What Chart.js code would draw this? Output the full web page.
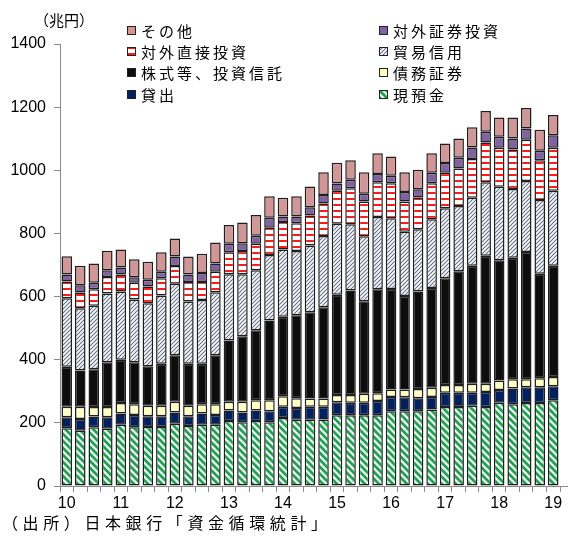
<!DOCTYPE html>
<html>
<head>
<meta charset="utf-8">
<script src="https://cdn.jsdelivr.net/npm/chart.js@4/dist/chart.umd.min.js"></script>
<style>
  html, body { margin:0; padding:0; background:#fff; }
  #wrap { position:relative; width:571px; height:538px; overflow:hidden; }
  canvas#c { position:absolute; left:0; top:0; }
  .txt { position:absolute; font-family:"Noto Sans CJK JP","Noto Sans",sans-serif; color:#000; white-space:nowrap; line-height:1; }
  .lg { position:absolute; display:flex; align-items:center; font-family:"Noto Sans CJK JP",sans-serif; font-size:15px; letter-spacing:3px; line-height:1; white-space:nowrap; }
  .lg canvas { margin-right:5px; }
</style>
</head>
<body>
<div id="wrap">
  <canvas id="c" width="571" height="538"></canvas>
  <div class="txt" id="unit" style="left:34px; top:12px; font-size:15px;">（兆円）</div>
  <div class="txt" id="src" style="left:2px; top:514px; font-size:16px; letter-spacing:4.6px;">（出所）日本銀行「資金循環統計」</div>
  <div id="legend"></div>
</div>
<script>
// ---- data (兆円), quarterly 2010Q1 .. 2019Q1 ----
const quarters = ['2010Q1','2010Q2','2010Q3','2010Q4','2011Q1','2011Q2','2011Q3','2011Q4',
  '2012Q1','2012Q2','2012Q3','2012Q4','2013Q1','2013Q2','2013Q3','2013Q4',
  '2014Q1','2014Q2','2014Q3','2014Q4','2015Q1','2015Q2','2015Q3','2015Q4',
  '2016Q1','2016Q2','2016Q3','2016Q4','2017Q1','2017Q2','2017Q3','2017Q4',
  '2018Q1','2018Q2','2018Q3','2018Q4','2019Q1'];
const cash      = [183,175,186,181,194,186,187,187,197,190,194,194,206,202,206,202,215,210,210,211,224,224,224,224,237,237,237,242,250,250,254,250,264,259,263,263,272];
const loans     = [35,37,34,37,36,39,34,34,36,31,36,31,33,31,33,35,36,37,41,40,41,40,40,45,45,44,41,40,45,45,41,48,40,50,50,50,44];
const debtSec   = [33,39,30,32,33,34,33,33,34,33,29,34,28,34,33,35,33,31,26,26,23,24,28,25,24,25,29,29,25,25,29,26,30,29,25,28,29];
const equity    = [127,115,120,142,137,133,125,133,147,133,128,155,194,207,221,252,252,263,273,289,318,331,293,329,318,296,309,316,338,360,374,405,381,385,403,331,353];
const trade     = [217,197,201,218,216,199,200,216,227,197,202,200,210,197,190,208,213,203,212,226,225,210,206,229,224,203,197,218,222,207,215,233,233,218,225,234,237];
const fdi       = [53,50,52,52,54,53,53,55,56,62,57,65,69,73,84,86,87,88,95,103,104,114,110,110,111,96,101,114,112,119,123,126,123,125,131,126,136];
const portfolio = [22,23,21,21,22,17,21,21,30,24,29,26,27,25,26,32,18,22,26,27,23,27,25,26,24,30,26,33,31,34,36,34,35,35,35,30,40];
const other     = [58,62,61,62,57,57,57,61,57,57,61,66,60,66,65,68,59,64,66,72,66,62,68,66,61,63,62,62,62,61,64,66,61,66,65,66,64];
const yTicks = [0,200,400,600,800,1000,1200,1400];

// ---- patterns ----
function diagPattern(size, color, lw, dir) {
  const c = document.createElement('canvas'); c.width = size; c.height = size;
  const g = c.getContext('2d');
  g.fillStyle = '#fff'; g.fillRect(0,0,size,size);
  g.strokeStyle = color; g.lineWidth = lw; g.lineCap = 'square';
  for (let k = -1; k <= 1; k++) {
    g.beginPath();
    if (dir === 'back') { g.moveTo(k*size, 0); g.lineTo(k*size+size, size); }
    else { g.moveTo(k*size, size); g.lineTo(k*size+size, 0); }
    g.stroke();
  }
  return g.createPattern(c, 'repeat');
}
function hPattern(period, color, h) {
  const c = document.createElement('canvas'); c.width = 4; c.height = period;
  const g = c.getContext('2d');
  g.fillStyle = '#fff'; g.fillRect(0,0,4,period);
  g.fillStyle = color; g.fillRect(0, 0, 4, h);
  return g.createPattern(c, 'repeat');
}
const pCash  = diagPattern(7, '#1aa64e', 2.8, 'back');
const pTrade = diagPattern(4, '#5f6f8c', 1.1, 'fwd');
const pFdi   = hPattern(6, '#ff1a1a', 2);

const series = [
  { label:'現預金', data:cash, bg:pCash },
  { label:'貸出', data:loans, bg:'#002060' },
  { label:'債務証券', data:debtSec, bg:'#ffffc4' },
  { label:'株式等、投資信託', data:equity, bg:'#0d0d0d' },
  { label:'貿易信用', data:trade, bg:pTrade },
  { label:'対外直接投資', data:fdi, bg:pFdi },
  { label:'対外証券投資', data:portfolio, bg:'#7f63a1' },
  { label:'その他', data:other, bg:'#d39696' }
];

const axisColor = '#8a8a8a';
const extendAxis = {
  id:'extendAxis',
  afterDraw(chart) {
    const a = chart.chartArea, ctx = chart.ctx;
    ctx.save(); ctx.strokeStyle = axisColor; ctx.lineWidth = 1;
    ctx.beginPath(); ctx.moveTo(a.right, a.bottom + 0.5); ctx.lineTo(a.right + 8, a.bottom + 0.5); ctx.stroke();
    ctx.restore();
  }
};

new Chart(document.getElementById('c'), {
  type:'bar',
  data:{
    labels:quarters,
    datasets:series.map(s => ({
      label:s.label, data:s.data, backgroundColor:s.bg,
      borderColor:'#1e1e1e', borderWidth:1.5, borderSkipped:false,
      barPercentage:0.78, categoryPercentage:1
    }))
  },
  options:{
    responsive:false, animation:false,
    layout:{ padding:{ top:44, right:11, left:0, bottom:0 } },
    plugins:{ legend:{ display:false }, tooltip:{ enabled:false } },
    scales:{
      x:{
        stacked:true, offset:true,
        grid:{ display:true, drawOnChartArea:false, drawTicks:true, tickLength:6, offset:true, color:axisColor },
        border:{ display:true, color:axisColor },
        ticks:{
          autoSkip:false, maxRotation:0, minRotation:0, padding:2, color:'#000',
          font:{ family:'"Liberation Sans", sans-serif', size:16 },
          callback:(v, i) => quarters[i].endsWith('Q1') ? quarters[i].slice(2,4) : ''
        },
        afterFit:s => { s.height = 52; s.paddingLeft = 0; s.paddingRight = 0; }
      },
      y:{
        stacked:true, min:0, max:1400,
        afterBuildTicks:s => { s.ticks = yTicks.map(v => ({ value:v })); },
        grid:{ display:true, drawOnChartArea:false, drawTicks:true, tickLength:6, color:axisColor },
        border:{ display:true, color:axisColor },
        ticks:{ padding:8, color:'#000', font:{ family:'"Liberation Sans", sans-serif', size:16 },
          callback:v => String(v) },
        afterFit:s => { s.width = 60; s.paddingTop = 0; s.paddingBottom = 0; }
      }
    }
  },
  plugins:[extendAxis]
});

// ---- HTML legend (two columns, order as reference) ----
const legendRows = [
  ['その他','対外証券投資'],
  ['対外直接投資','貿易信用'],
  ['株式等、投資信託','債務証券'],
  ['貸出','現預金']
];
const colX = [127, 379];
const rowY = [30, 51, 72, 94];
const lg = document.getElementById('legend');
legendRows.forEach((row, r) => row.forEach((name, cidx) => {
  const s = series.find(x => x.label === name);
  const d = document.createElement('div');
  d.className = 'lg';
  d.style.left = colX[cidx] + 'px';
  d.style.top = (rowY[r] - 9) + 'px';
  d.style.height = '18px';
  const sw = document.createElement('canvas'); sw.width = 9; sw.height = 9;
  const g = sw.getContext('2d');
  g.fillStyle = s.bg; g.fillRect(0,0,9,9);
  g.strokeStyle = '#222'; g.lineWidth = 1; g.strokeRect(0.5,0.5,8,8);
  d.appendChild(sw);
  const t = document.createElement('span'); t.textContent = name;
  d.appendChild(t);
  lg.appendChild(d);
}));
</script>
</body>
</html>
